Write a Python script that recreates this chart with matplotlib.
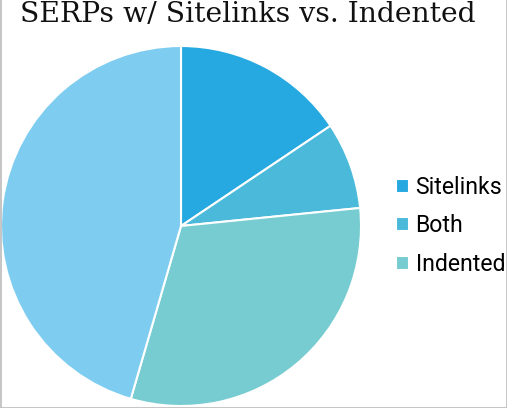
import numpy as np
import matplotlib
matplotlib.use('Agg')
import matplotlib.pyplot as plt

# slice shares (percent), clockwise from 12 o'clock
labels = ['Sitelinks', 'Both', 'Indented', '']
values = [15.6, 7.8, 31.1, 45.5]
colors = ['#26A9E0', '#4BB9DA', '#76CCD0', '#7ECDF0']
title = 'SERPs w/ Sitelinks vs. Indented'

W, H = 507, 408
fig = plt.figure(figsize=(W / 100, H / 100), dpi=100)

# pie area: centre ~(181, 226) px, radius ~180 px
cx, cy, r = 181, 226, 180
ax = fig.add_axes([(cx - r) / W, (H - cy - r) / H, 2 * r / W, 2 * r / H])
wedges, _ = ax.pie(values, colors=colors, startangle=90, counterclock=False,
                   radius=1.0, wedgeprops=dict(edgecolor='white', linewidth=1.5))
ax.set_xlim(-1, 1)
ax.set_ylim(-1, 1)
ax.set_aspect('auto')
ax.axis('off')

fig.text(248 / W, 1 - 15 / H, title, ha='center', va='center',
         fontsize=20.3, family='DejaVu Serif', color='#111111')

# legend only for the three named slices
leg = fig.legend(wedges[:3], labels[:3], loc='center left',
                 bbox_to_anchor=(396 / W, 1 - 226 / H), frameon=False,
                 prop=dict(family='Roboto', size=16.6),
                 handlelength=0.55, handleheight=0.55, handletextpad=0.3,
                 labelspacing=0.66, borderpad=0, borderaxespad=0)

# thin grey frame on left, right and bottom
fig.add_artist(plt.Line2D([0.5 / W, 0.5 / W, 1 - 0.5 / W, 1 - 0.5 / W],
                          [1, 0.5 / H, 0.5 / H, 1],
                          transform=fig.transFigure, color='#bbbbbb', linewidth=1.2))

fig.savefig('out.png', dpi=100)
